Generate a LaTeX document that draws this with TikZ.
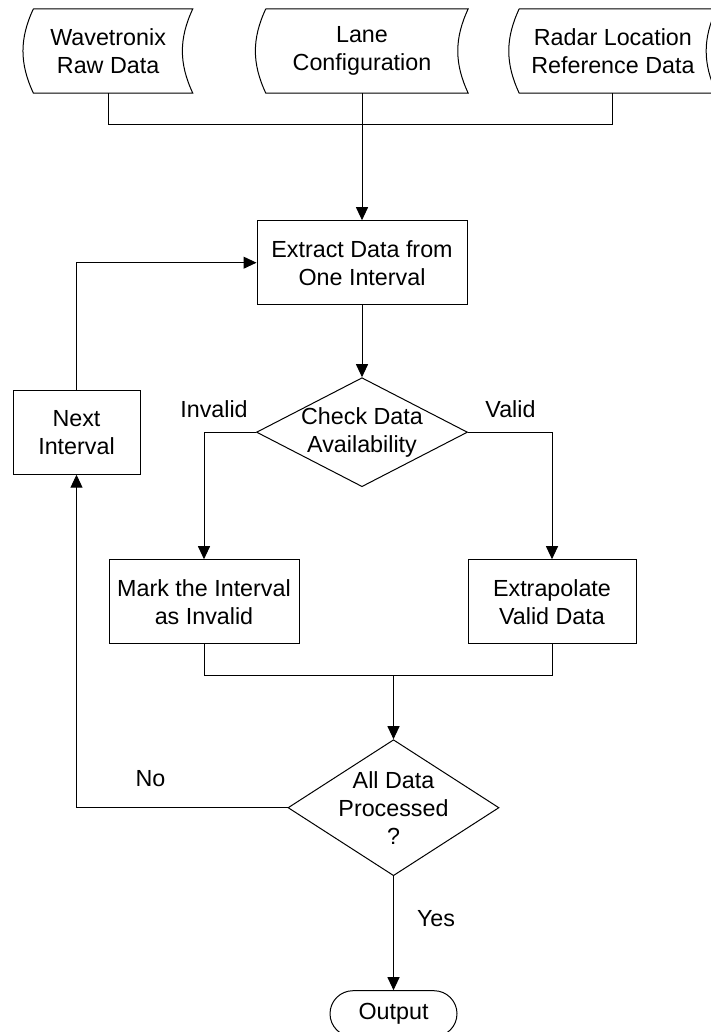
\documentclass[tikz,border=0pt]{standalone}
\usepackage{fontspec}
\setmainfont{Liberation Sans}
\usetikzlibrary{arrows.meta,positioning,shapes.geometric}

\begin{document}
\begin{tikzpicture}[
  every node/.style={font=\fontsize{23.3}{28}\selectfont},
  store/.style={minimum height=84pt, align=center, inner sep=0pt},
  proc/.style={draw, line width=1pt, minimum height=84pt, align=center, inner sep=0pt},
  decision/.style={draw, diamond, line width=1pt, minimum width=211pt, inner sep=0pt},
  term/.style={draw, line width=1pt, rounded corners=23pt, minimum width=127pt, minimum height=46pt},
  lbl/.style={inner sep=0pt, align=center},
  line/.style={line width=1pt},
  arr/.style={-{Triangle[length=13pt,width=12pt]}, line width=1pt},
]
  \useasboundingbox (0pt,0pt) rectangle (711pt,-1032pt);

  % Row 1: input data stores
  \node[store, minimum width=212pt] (lane) at (362pt,-51pt) {Lane\\Configuration};
  \node[store, minimum width=169pt, left=63pt of lane] (wave) {Wavetronix\\Raw Data};
  \node[store, minimum width=207pt, right=41pt of lane] (radar) {Radar Location\\Reference Data};
  \foreach \n in {wave,lane,radar}
    \draw[line] ([xshift=10pt]\n.north west) -- (\n.north east) to[bend right=25] (\n.south east)
      -- ([xshift=10pt]\n.south west) to[bend left=25] ([xshift=10pt]\n.north west);

  % Row 2: extraction
  \node[proc, minimum width=210pt, below=127pt of lane] (extract) {Extract Data from\\One Interval};
  \coordinate[above=96pt of extract.north] (jn);

  % Row 3: availability check and loop box
  \node[decision, minimum height=109pt, below=72pt of extract,
    label={[lbl]center:Check Data\\Availability}] (check) {};
  \node[proc, minimum width=127pt, left=115.5pt of check] (next) {Next\\Interval};

  % Row 4: the two outcomes
  \node[proc, minimum width=190pt, below=72pt of check, xshift=-158pt] (mark) {Mark the Interval\\as Invalid};
  \node[proc, minimum width=168pt, below=72pt of check, xshift=190pt] (extrap) {Extrapolate\\Valid Data};

  % Row 5: end test and output
  \node[decision, minimum height=136pt, below=252pt of check, xshift=31.5pt,
    label={[lbl]center:All Data\\Processed\\?}] (done) {};
  \coordinate[above=64pt of done.north] (merge);
  \node[term, below=114pt of done] (out) {Output};

  % Branch labels
  \node[lbl] at ([xshift=-42pt, yshift=23pt]check.west) {Invalid};
  \node[lbl] at ([xshift=42.5pt, yshift=23pt]check.east) {Valid};
  \node[lbl] at ([xshift=-137pt, yshift=29pt]done.west) {No};
  \node[lbl] at ([xshift=42.5pt, yshift=-42pt]done.south) {Yes};

  % Arrows
  \draw[line] (wave.south) |- (jn) -| (radar.south);
  \draw[arr] (lane.south) -- (extract.north);
  \draw[arr] (extract) -- (check);
  \draw[arr] (check.west) -| (mark.north);
  \draw[arr] (check.east) -| (extrap.north);
  \draw[line] (mark.south) |- (merge) -| (extrap.south);
  \draw[arr] (merge) -- (done.north);
  \draw[arr] (done.south) -- (out.north);
  \draw[arr] (done.west) -| (next.south);
  \draw[arr] (next.north) |- (extract.west);
\end{tikzpicture}
\end{document}
